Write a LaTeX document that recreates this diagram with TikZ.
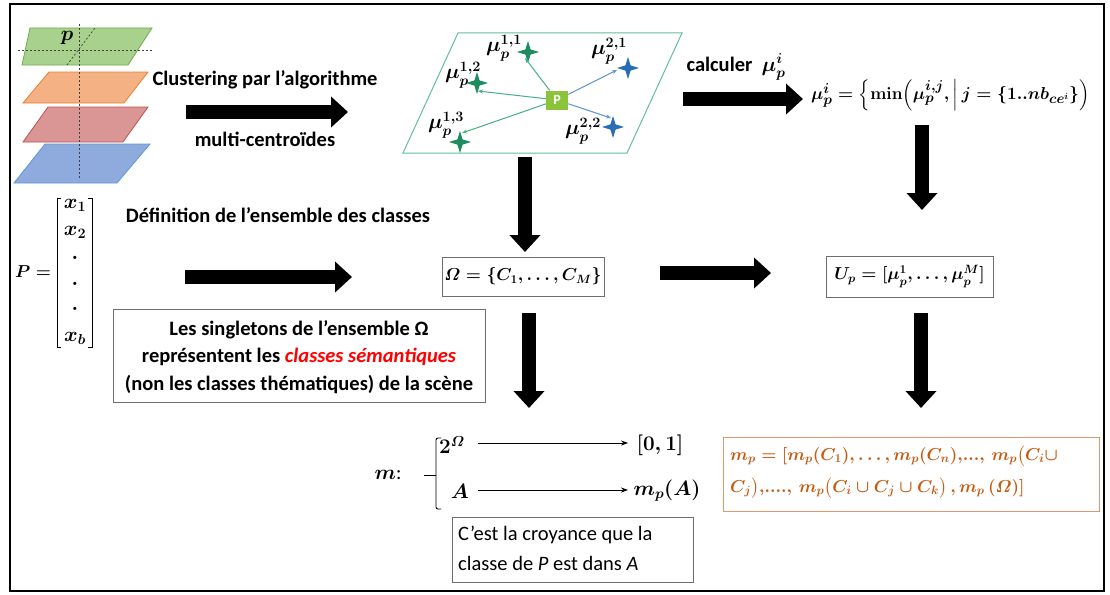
\documentclass[tikz,border=0pt]{standalone}
\usepackage[no-math]{fontspec}
\setmainfont{Carlito}
\usepackage{amsmath}
\usetikzlibrary{arrows.meta,shapes.geometric}
\definecolor{pgreenF}{RGB}{169,209,142}
\definecolor{pgreenD}{RGB}{112,173,71}
\definecolor{porangeF}{RGB}{244,177,131}
\definecolor{porangeD}{RGB}{237,125,49}
\definecolor{predF}{RGB}{217,150,148}
\definecolor{predD}{RGB}{192,80,77}
\definecolor{pblueF}{RGB}{143,170,220}
\definecolor{pblueD}{RGB}{91,155,213}
\definecolor{tealB}{RGB}{100,190,160}
\definecolor{stargreen}{RGB}{30,140,95}
\definecolor{arrgreen}{RGB}{70,175,135}
\definecolor{starblue}{RGB}{40,110,180}
\definecolor{arrblue}{RGB}{90,150,210}
\definecolor{pboxc}{RGB}{140,195,60}
\definecolor{obrown}{RGB}{197,90,17}
\definecolor{oborder}{RGB}{225,150,110}
\definecolor{gbord}{RGB}{110,110,110}
\tikzset{
  txt/.style={font=\fontsize{20.5}{24}\selectfont\bfseries\boldmath, inner sep=0pt},
  rtxt/.style={font=\fontsize{20.5}{24}\selectfont, inner sep=0pt},
  mth/.style={font=\fontsize{18}{22}\selectfont\boldmath, inner sep=0pt},
  mlab/.style={font=\fontsize{20}{24}\selectfont\boldmath, inner sep=0pt},
  bigarrow/.style={line width=14pt, -{Triangle[width=30pt,length=17pt]}, black},
  gbox/.style={draw=gbord, line width=1pt, inner sep=0pt},
  stargr/.style={star, star points=4, star point ratio=3, minimum size=22pt, inner sep=0pt, fill=stargreen},
  starbl/.style={star, star points=4, star point ratio=3, minimum size=22pt, inner sep=0pt, fill=starblue},
  garr/.style={arrgreen, line width=1pt, -{Stealth[length=5pt,width=4pt]}},
  barr/.style={arrblue, line width=1pt, -{Stealth[length=5pt,width=4pt]}},
  marr/.style={line width=0.8pt, -{Stealth[length=7pt,width=5pt]}},
  dotl/.style={dash pattern=on 2pt off 2pt, line width=0.7pt, black!75},
  plane/.style={line width=0.8pt}
}
\begin{document}
\begin{tikzpicture}[x=1pt,y=-1pt]
\useasboundingbox (0,0) rectangle (1110,594);
\fill[white] (0,0) rectangle (1110,594);
% outer frame
\draw[line width=2.4pt] (10,4) rectangle (1104,591);

% stacked planes
\draw[plane, draw=pblueD, fill=pblueF] (45,144) -- (150,144) -- (117,183) -- (14,183) -- cycle;
\draw[plane, draw=predD, fill=predF] (48,107) -- (148,107) -- (123,142) -- (23,142) -- cycle;
\draw[plane, draw=porangeD, fill=porangeF] (49,72) -- (148,72) -- (124,103) -- (23,103) -- cycle;
\draw[plane, draw=pgreenD, fill=pgreenF] (30,28) -- (152,28) -- (128,65) -- (22,65) -- cycle;
\draw[dotl] (79,24) -- (79,180);
\draw[dotl] (18,50) -- (152,50);
\draw[dotl] (67,65) -- (95,28);
\node[mlab] (plab) at (67,38) {$p$};

% clustering arrow
\coordinate (a1) at (186,112);
\coordinate (a2) at (348,112);
\draw[bigarrow] (a1) -- (a2);
\node[txt] (clu) at (265,80) {Clustering par l’algorithme};
\node[txt] (mcen) at (265,139) {multi-centroïdes};

% middle plane
\draw[tealB, line width=1pt] (458,33) -- (682,33) -- (627,153) -- (403,153) -- cycle;
\node[fill=pboxc, text=white, font=\fontsize{14}{14}\selectfont\bfseries, minimum width=22pt, minimum height=19pt, inner sep=0pt] (P) at (557,100) {P};
\node[stargr] (s11) at (528,52) {};
\node[stargr] (s12) at (477,83) {};
\node[stargr] (s13) at (460,142) {};
\node[starbl] (s21) at (628,68) {};
\node[starbl] (s22) at (613,127) {};
\coordinate (t11) at (525,58);
\coordinate (t12) at (478,91);
\coordinate (t13) at (462,133);
\coordinate (t21) at (617,70);
\coordinate (t22) at (611,118);
\draw[garr] (P) -- (t11);
\draw[garr] (P) -- (t12);
\draw[garr] (P) -- (t13);
\draw[barr] (P) -- (t21);
\draw[barr] (P) -- (t22);
\node[mlab] (l11) at (504,48) {$\mu_p^{1,1}$};
\node[mlab] (l12) at (463,75) {$\mu_p^{1,2}$};
\node[mlab] (l13) at (446,125) {$\mu_p^{1,3}$};
\node[mlab] (l21) at (609,51) {$\mu_p^{2,1}$};
\node[mlab] (l22) at (583,131) {$\mu_p^{2,2}$};

% calculer
\node[txt] (calc) at (736,67) {calculer\ \ $\mu_p^i$};
\coordinate (b1) at (683,99);
\coordinate (b2) at (803,99);
\draw[bigarrow] (b1) -- (b2);
\node[font=\fontsize{19}{23}\selectfont\boldmath, inner sep=0pt, anchor=west] (form) at (811,95) {$\mu_p^i=\Big\{\mathbf{min}\Big(\mu_p^{i,j},\Big|\,j=\{\mathbf{1..}nb_{ce^i}\}\Big)$};
\coordinate (r1) at (922,125);
\coordinate (r2) at (922,210);
\draw[bigarrow] (r1) -- (r2);

% P vector
\node[mth] (Peq) at (33,272) {$P=$};
\draw[line width=0.9pt] (61,198) -- (57,198) -- (57,347) -- (61,347);
\draw[line width=0.9pt] (88,198) -- (92,198) -- (92,347) -- (88,347);
\node[mlab] (x1) at (75,205) {$x_1$};
\node[mlab] (x2) at (75,232) {$x_2$};
\node[mlab] (d1) at (75,258) {$.$};
\node[mlab] (d2) at (75,284) {$.$};
\node[mlab] (d3) at (75,309) {$.$};
\node[mlab] (xb) at (75,338) {$x_b$};

\node[txt] (defi) at (278,215) {Définition de l’ensemble des classes};
\coordinate (c1) at (185,277);
\coordinate (c2) at (352,277);
\draw[bigarrow] (c1) -- (c2);

% Omega box
\node[gbox, mth, minimum width=162pt, minimum height=39pt] (Om) at (523,276.5) {$\varOmega=\{C_1,\dots,C_M\}$};
\coordinate (v1) at (525,157);
\coordinate (v2) at (525,252);
\draw[bigarrow] (v1) -- (v2);
\coordinate (h1) at (660,273);
\coordinate (h2) at (771,273);
\draw[bigarrow] (h1) -- (h2);
\node[gbox, mth, minimum width=167pt, minimum height=41pt] (Up) at (909.5,276.5) {$U_p=[\mu_p^1,\dots,\mu_p^M]$};

% singletons box
\node[gbox, minimum width=372pt, minimum height=93pt] (sing) at (299,355.5) {};
\node[txt] (sg1) at (299,330) {Les singletons de l’ensemble Ω};
\node[txt] (sg2) at (299,357) {représentent les \textcolor{red}{\itshape classes sémantiques}};
\node[txt] (sg3) at (299,384) {(non les classes thématiques) de la scène};

% lower arrows
\coordinate (w1) at (529,313);
\coordinate (w2) at (529,408);
\draw[bigarrow] (w1) -- (w2);
\coordinate (z1) at (921,313);
\coordinate (z2) at (921,408);
\draw[bigarrow] (z1) -- (z2);

% mapping
\node[mlab] (mm) at (388,475) {$m$:};
\draw[line width=0.9pt, rounded corners=2pt] (441,438) -- (436,438) -- (436,509) -- (441,509);
\draw[line width=0.9pt] (424,475) -- (436,475);
\node[mlab] (two) at (452,445) {$2^{\varOmega}$};
\node[mlab] (zo) at (660,445) {$[0,1]$};
\node[mlab] (AA) at (460,491) {$A$};
\node[mlab] (mpA) at (667,491) {$m_p(A)$};
\coordinate (m1) at (478,443);
\coordinate (m2) at (628,443);
\draw[marr] (m1) -- (m2);
\coordinate (n1) at (478,490);
\coordinate (n2) at (628,490);
\draw[marr] (n1) -- (n2);

% croyance box
\node[gbox, minimum width=241pt, minimum height=65pt] (cro) at (572.5,549.5) {};
\node[rtxt, anchor=west] (cr1) at (458,535) {C’est la croyance que la};
\node[rtxt, anchor=west] (cr2) at (458,563) {classe de \textit{P} est dans \textit{A}};

% orange box
\node[draw=oborder, line width=1pt, minimum width=376pt, minimum height=74pt, inner sep=0pt] (ob) at (911,474) {};
\node[mth, text=obrown, anchor=west] (o1) at (730,456) {$m_p=[m_p(C_1),\dots,m_p(C_n),\!...,\,m_p\big(C_i\cup$};
\node[mth, text=obrown, anchor=west] (o2) at (730,488) {$C_j\big),\!....,\,m_p\big(C_i\cup C_j\cup C_k\big)\,,m_p\,(\varOmega)]$};
\end{tikzpicture}
\end{document}
